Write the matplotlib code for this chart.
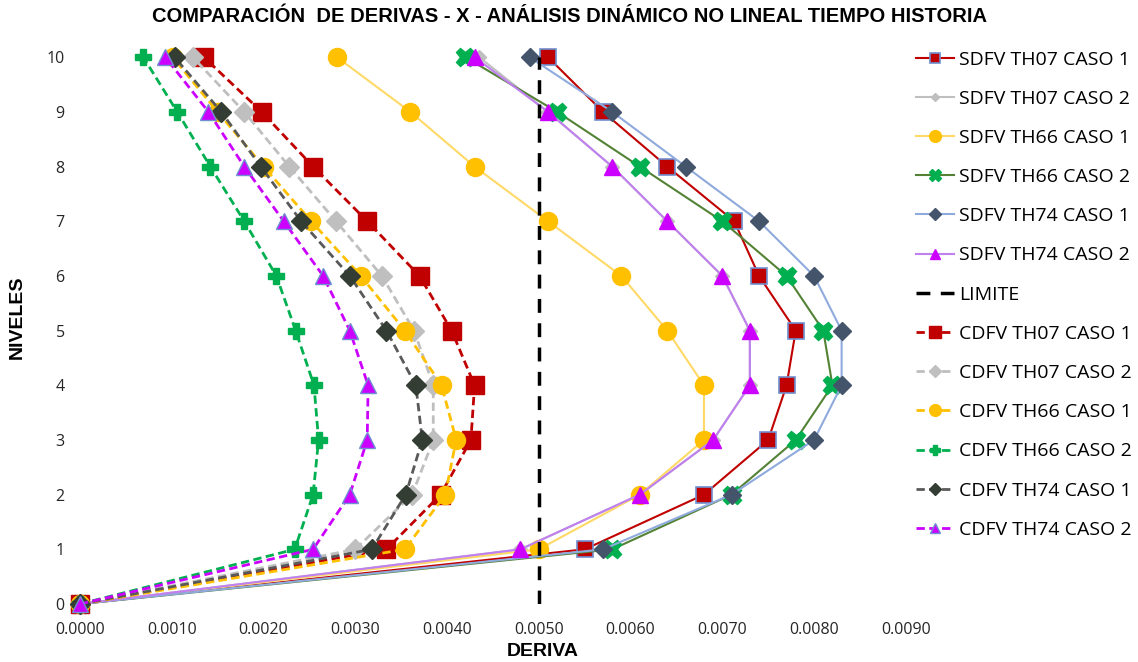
import matplotlib.pyplot as plt
from matplotlib.ticker import MultipleLocator, FormatStrFormatter

plt.rcParams['font.family'] = ['Open Sans', 'DejaVu Sans']

# ---------------------------------------------------------------------------
# Data (deriva por nivel)
# ---------------------------------------------------------------------------
niveles = [0, 1, 2, 3, 4, 5, 6, 7, 8, 9, 10]

sdfv_th07_c1 = [0, 0.00550, 0.00680, 0.00750, 0.00770, 0.00780, 0.00740, 0.00713, 0.00640, 0.00570, 0.00510]
sdfv_th07_c2 = [0, 0.00480, 0.00610, 0.00690, 0.00730, 0.00730, 0.00700, 0.00640, 0.00580, 0.00510, 0.00435]
sdfv_th66_c1 = [0, 0.00500, 0.00610, 0.00680, 0.00680, 0.00640, 0.00590, 0.00510, 0.00430, 0.00360, 0.00280]
sdfv_th66_c2 = [0, 0.00580, 0.00710, 0.00780, 0.00820, 0.00810, 0.00770, 0.00700, 0.00610, 0.00520, 0.00420]
sdfv_th74_c1 = [0, 0.00570, 0.00710, 0.00800, 0.00830, 0.00830, 0.00800, 0.00740, 0.00660, 0.00580, 0.00490]
sdfv_th74_c2 = [0, 0.00480, 0.00610, 0.00690, 0.00730, 0.00730, 0.00700, 0.00640, 0.00580, 0.00510, 0.00430]

limite_x = [0.005, 0.005]
limite_y = [0, 10]

cdfv_th07_c1 = [0, 0.00334, 0.00393, 0.00426, 0.00430, 0.00405, 0.00370, 0.00313, 0.00254, 0.00198, 0.00135]
cdfv_th07_c2 = [0, 0.00300, 0.00362, 0.00385, 0.00385, 0.00364, 0.00329, 0.00279, 0.00228, 0.00179, 0.00123]
cdfv_th66_c1 = [0, 0.00354, 0.00398, 0.00410, 0.00394, 0.00354, 0.00306, 0.00252, 0.00200, 0.00150, 0.00101]
cdfv_th66_c2 = [0, 0.00234, 0.00254, 0.00260, 0.00255, 0.00235, 0.00214, 0.00179, 0.00142, 0.00106, 0.00069]
cdfv_th74_c1 = [0, 0.00318, 0.00355, 0.00373, 0.00366, 0.00334, 0.00294, 0.00241, 0.00197, 0.00154, 0.00103]
cdfv_th74_c2 = [0, 0.00254, 0.00294, 0.00313, 0.00314, 0.00294, 0.00265, 0.00222, 0.00179, 0.00140, 0.00093]

x_ticks = [0.0, 0.001, 0.002, 0.003, 0.004, 0.005, 0.006, 0.007, 0.008, 0.009]

# ---------------------------------------------------------------------------
# Series styles
# ---------------------------------------------------------------------------
DASH = (0, (3, 1.6))
series = [
    ("SDFV TH07 CASO 1", sdfv_th07_c1, dict(color="#C00000", ls="-", lw=1.5, marker="s", ms=12, mfc="#C00000", mec="#6F8FD0", mew=1.2)),
    ("SDFV TH07 CASO 2", sdfv_th07_c2, dict(color="#BFBFBF", ls="-", lw=1.5, marker="D", ms=7, mfc="#BFBFBF", mec="#BFBFBF")),
    ("SDFV TH66 CASO 1", sdfv_th66_c1, dict(color="#FFD966", ls="-", lw=1.5, marker="o", ms=13, mfc="#FFC000", mec="#FFC000")),
    ("SDFV TH66 CASO 2", sdfv_th66_c2, dict(color="#548235", ls="-", lw=1.5, marker="X", ms=13, mfc="#00B050", mec="#00B050")),
    ("SDFV TH74 CASO 1", sdfv_th74_c1, dict(color="#8FAADC", ls="-", lw=1.5, marker="D", ms=9, mfc="#44546A", mec="#44546A")),
    ("SDFV TH74 CASO 2", sdfv_th74_c2, dict(color="#C080F0", ls="-", lw=1.5, marker="^", ms=11, mfc="#CC00FF", mec="#CC00FF")),
]
series_cd = [
    ("CDFV TH07 CASO 1", cdfv_th07_c1, dict(color="#C00000", ls=DASH, lw=2, marker="s", ms=13, mfc="#C00000", mec="#C00000")),
    ("CDFV TH07 CASO 2", cdfv_th07_c2, dict(color="#BFBFBF", ls=DASH, lw=2, marker="D", ms=10, mfc="#BFBFBF", mec="#BFBFBF")),
    ("CDFV TH66 CASO 1", cdfv_th66_c1, dict(color="#FFC000", ls=DASH, lw=2, marker="o", ms=13, mfc="#FFC000", mec="#FFC000")),
    ("CDFV TH66 CASO 2", cdfv_th66_c2, dict(color="#00B050", ls=DASH, lw=2, marker="P", ms=12, mfc="#00B050", mec="#00B050")),
    ("CDFV TH74 CASO 1", cdfv_th74_c1, dict(color="#595959", ls=DASH, lw=2, marker="D", ms=10, mfc="#333D33", mec="#333D33")),
    ("CDFV TH74 CASO 2", cdfv_th74_c2, dict(color="#CC00FF", ls=DASH, lw=2, marker="^", ms=12, mfc="#CC00FF", mec="#6F8FD0", mew=1)),
]

fig = plt.figure(figsize=(11.38, 6.62), dpi=100)
ax = fig.add_axes([0.0703, 0.0876, 0.7257, 0.826])

for label, vals, st in series:
    ax.plot(vals, niveles, label=label, clip_on=False, **st)

ax.plot(limite_x, limite_y, color="black", ls=(0, (4, 3)), lw=2.5, label="LIMITE")

for label, vals, st in series_cd:
    ax.plot(vals, niveles, label=label, clip_on=False, **st)

ax.set_xlim(0, 0.009)
ax.set_ylim(0, 10)
ax.set_xticks(x_ticks)
ax.xaxis.set_major_formatter(FormatStrFormatter("%.4f"))
ax.yaxis.set_major_locator(MultipleLocator(1))
ax.tick_params(axis="both", length=0, labelsize=11.5, colors="#262626")
ax.tick_params(axis="x", pad=13)
ax.tick_params(axis="y", pad=11)
for s in ax.spines.values():
    s.set_visible(False)

ax.set_xlabel("DERIVA", fontsize=14, fontweight="bold", family="Liberation Sans")
ax.xaxis.set_label_coords(0.56, -0.072)
ax.set_ylabel("NIVELES", fontsize=14, fontweight="bold", family="Liberation Sans")
ax.yaxis.set_label_coords(-0.066, 0.525)
fig.suptitle("COMPARACIÓN  DE DERIVAS - X - ANÁLISIS DINÁMICO NO LINEAL TIEMPO HISTORIA",
             fontsize=14.5, fontweight="bold", family="Liberation Sans", y=0.99)

ax.legend(loc="upper left", bbox_to_anchor=(1.0, 1.030), frameon=False,
          fontsize=14, markerscale=0.65, handlelength=2.0, labelspacing=1.09,
          handletextpad=0.25, borderaxespad=0.1)

fig.savefig("out.png", dpi=100)
